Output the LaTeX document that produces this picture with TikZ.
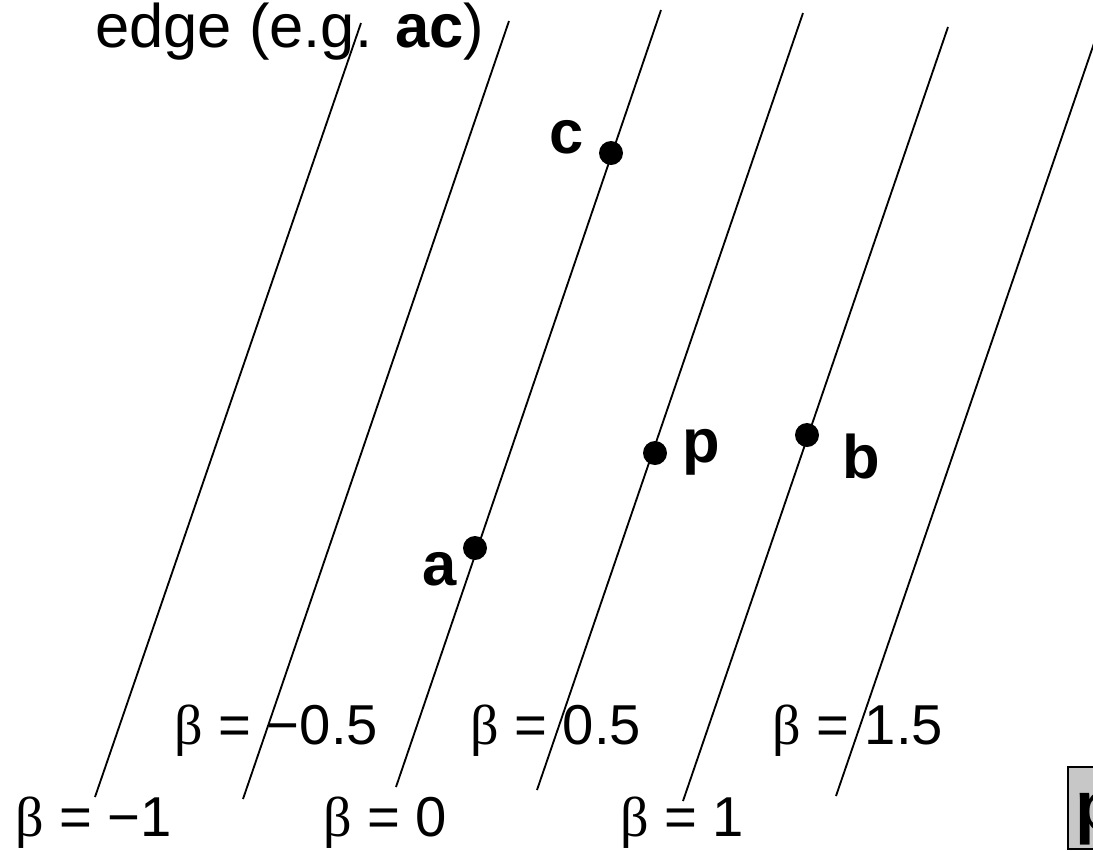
\documentclass[tikz,border=0pt]{standalone}
\usepackage{fontspec}
\setmainfont{Liberation Sans}
\newfontfamily\betafont{Liberation Serif}
\usetikzlibrary{positioning}
\newcommand{\betaeq}[1]{{\betafont β} = #1}

\begin{document}
\begin{tikzpicture}[
      x=0.02cm,y=-0.02cm,
      level/.style={draw=black,line width=1.05pt},
      dot/.style={circle,fill=black,inner sep=0pt,minimum size=0.48cm},
      ptlabel/.style={font=\fontsize{35}{40}\selectfont\bfseries,inner sep=0pt,anchor=base west},
      betalabel/.style={font=\fontsize{32}{38}\selectfont,inner sep=0pt,anchor=base west},
      tag/.style={draw=black,line width=1pt,fill=black!22}
    ]
    \useasboundingbox (0,0) rectangle (1093,850);
    % lines of constant beta
    \foreach \xb/\yb/\xt/\yt in {95/797/361/23,243/799/509/21,396/787/661/10,
                                 537/790/803/13,683/801/948/27,836/796/1102/20}
      \draw[level] (\xb,\yb) -- (\xt,\yt);
    \node[font=\fontsize{35}{40}\selectfont,inner sep=0pt,anchor=base west] (edge) at (95,47) {edge (e.g. \textbf{ac})};
    % points
    \node[dot] (c) at (611,153) {};
    \node[dot] (a) at (475,548) {};
    \node[dot] (p) at (655,453) {};
    \node[dot] (b) at (807,435) {};
    \node[ptlabel] (clab) at (549,153) {c};
    \node[ptlabel] (alab) at (422,585) {a};
    \node[ptlabel] (plab) at (682,462) {p};
    \node[ptlabel] (blab) at (842,478) {b};
    % beta values
    \node[betalabel] (bm1) at (15,836) {\betaeq{−1}};
    \node[betalabel] (bm05) at (174,744) {\betaeq{−0.5}};
    \node[betalabel] (b0) at (323,836) {\betaeq{0}};
    \node[betalabel] (b05) at (470,744) {\betaeq{0.5}};
    \node[betalabel] (b1) at (620,836) {\betaeq{1}};
    \node[betalabel] (b15) at (772,744) {\betaeq{1.5}};
    \draw[tag] (1068,767) rectangle (1120,849);
    \node[ptlabel,font=\fontsize{40}{46}\selectfont\bfseries] (ptag) at (1075,830) {p};
  \end{tikzpicture}
\end{document}
